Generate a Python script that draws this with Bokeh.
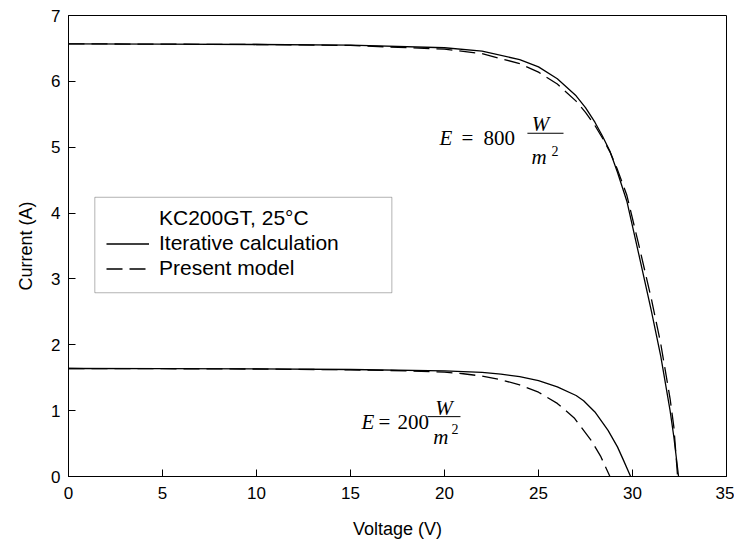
from bokeh.plotting import figure
from bokeh.models import Legend, LegendItem, BoxAnnotation, Label, Range1d, FixedTicker
from bokeh.embed import file_html
from bokeh.resources import INLINE

# ---- data ----
v_iter_800 = [0, 5, 10, 15, 20, 22, 24, 25, 26, 27, 27.5, 28, 28.4, 28.8, 29.2, 29.7, 30.3, 31.0, 31.5, 32.0, 32.2, 32.45]
i_iter_800 = [6.57, 6.565, 6.56, 6.55, 6.51, 6.46, 6.33, 6.22, 6.04, 5.78, 5.60, 5.38, 5.17, 4.94, 4.62, 4.18, 3.42, 2.52, 1.83, 1.00, 0.60, 0.0]

v_model_800 = [0, 5, 10, 15, 20, 22, 24, 25, 26, 27, 27.5, 28, 28.4, 28.8, 29.2, 29.7, 30.3, 31.0, 31.5, 32.0, 32.2, 32.4]
i_model_800 = [6.57, 6.565, 6.56, 6.545, 6.49, 6.42, 6.27, 6.14, 5.96, 5.70, 5.53, 5.33, 5.14, 4.93, 4.66, 4.27, 3.56, 2.70, 2.02, 1.18, 0.75, 0.0]

v_iter_200 = [0, 5, 10, 15, 20, 22, 23, 24, 25, 26, 27, 27.4, 28, 28.7, 29.2, 29.5, 29.9]
i_iter_200 = [1.64, 1.637, 1.633, 1.625, 1.605, 1.58, 1.555, 1.515, 1.455, 1.36, 1.23, 1.15, 0.98, 0.70, 0.45, 0.26, 0.0]

v_model_200 = [0, 5, 10, 15, 18, 20, 21, 22, 23, 24, 25, 26, 26.9, 27.8, 28.3, 28.8]
i_model_200 = [1.64, 1.637, 1.632, 1.62, 1.605, 1.585, 1.56, 1.525, 1.47, 1.39, 1.28, 1.11, 0.89, 0.55, 0.31, 0.0]

x_ticks = [0, 5, 10, 15, 20, 25, 30, 35]
y_ticks = [0, 1, 2, 3, 4, 5, 6, 7]

legend_title = "KC200GT, 25\u00b0C"
legend_labels = ["Iterative calculation", "Present model"]

SANS = "Liberation Sans"
SERIF = "Liberation Serif"

p = figure(width=734, height=547, output_backend="svg", toolbar_location=None,
           x_range=Range1d(0, 35), y_range=Range1d(0, 7),
           min_border_left=68, min_border_right=8, min_border_top=15, min_border_bottom=71)
p.grid.visible = False
p.background_fill_color = "white"
p.border_fill_color = "white"
p.outline_line_color = "black"
p.outline_line_width = 1

for ax in (p.xaxis, p.yaxis):
    ax.major_tick_in = 7
    ax.major_tick_out = 0
    ax.minor_tick_in = 0
    ax.minor_tick_out = 0
    ax.axis_line_color = "black"
    ax.major_tick_line_color = "black"
    ax.major_label_text_font = SANS
    ax.major_label_text_font_size = "17px"
    ax.major_label_text_color = "black"
    ax.axis_label_text_font = SANS
    ax.axis_label_text_font_size = "18px"
    ax.axis_label_text_font_style = "normal"
    ax.axis_label_text_color = "black"

p.xaxis.ticker = FixedTicker(ticks=x_ticks)
p.yaxis.ticker = FixedTicker(ticks=y_ticks)
p.xaxis.axis_label = "Voltage (V)"
p.yaxis.axis_label = "Current (A)"
p.xaxis.major_label_standoff = 10
p.xaxis.axis_label_standoff = 17
p.yaxis.major_label_standoff = 8
p.yaxis.axis_label_standoff = 12

DASH = "16 7"
r_iter_800 = p.line(v_iter_800, i_iter_800, line_color="black", line_width=1.3)
r_model_800 = p.line(v_model_800, i_model_800, line_color="black", line_width=1.3, line_dash=DASH)
p.line(v_iter_200, i_iter_200, line_color="black", line_width=1.3)
p.line(v_model_200, i_model_200, line_color="black", line_width=1.3, line_dash=DASH)
r_title = p.line([], [], line_alpha=0)

# legend box
box = BoxAnnotation(left=1.4, right=17.2, bottom=2.79, top=4.24,
                    fill_color="white", fill_alpha=1, line_color="black", line_width=1)
p.add_layout(box)

legend = Legend(items=[LegendItem(label=legend_title, renderers=[r_title]),
                       LegendItem(label=legend_labels[0], renderers=[r_iter_800]),
                       LegendItem(label=legend_labels[1], renderers=[r_model_800])],
                location=(26, 184), padding=12, spacing=1, label_height=23, glyph_height=23,
                glyph_width=43, label_standoff=10, margin=0,
                label_text_font=SANS, label_text_font_size="21px", label_text_color="black",
                border_line_alpha=0, background_fill_alpha=0)
p.add_layout(legend)

# irradiance annotations (math-like text)
def ann(x, y, t, style="italic", size="21px", align="left"):
    p.add_layout(Label(x=x, y=y, text=t, text_font=SERIF, text_font_style=style,
                       text_font_size=size, text_align=align, text_baseline="alphabetic",
                       text_color="black"))

# E = 800 W/m^2
ann(19.73, 5.136, "E")
ann(20.9, 5.136, "=", style="normal")
ann(22.07, 5.136, "800", style="normal")
ann(25.11, 5.35, "W", align="center")
ann(25.03, 4.85, "m", align="center")
ann(25.69, 4.94, "2", style="normal", size="14px")
# E = 200 W/m^2
ann(15.59, 0.833, "E")
ann(16.49, 0.833, "=", style="normal")
ann(17.5, 0.833, "200", style="normal")
ann(19.97, 1.045, "W", align="center")
ann(19.81, 0.606, "m", align="center")
ann(20.37, 0.727, "2", style="normal", size="14px")
p.segment(x0=[24.41, 19.10], y0=[5.212, 0.909], x1=[26.33, 20.85], y1=[5.212, 0.909],
          line_color="black", line_width=1)

open("out.html", "w").write(file_html(p, INLINE))
